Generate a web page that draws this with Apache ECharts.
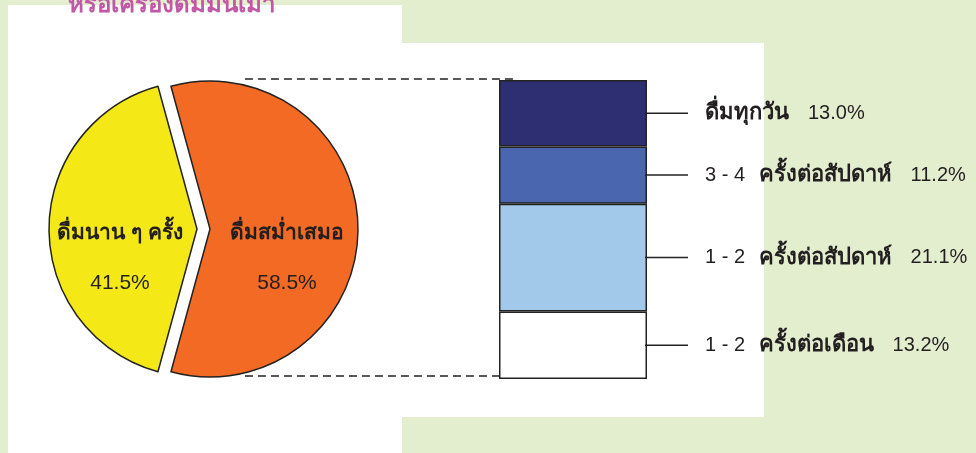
<!DOCTYPE html>
<html>
<head>
<meta charset="utf-8">
<script src="https://cdn.jsdelivr.net/npm/echarts@6/dist/echarts.min.js"></script>
<style>
  html, body { margin: 0; padding: 0; background: #e3eecf; }
  #chart { width: 976px; height: 453px; }
</style>
</head>
<body>
<div id="chart"></div>
<script>
// data
const titleText = 'หรือเครื่องดื่มมึนเมา';
const pieNames = ['ดื่มสม่ำเสมอ', 'ดื่มนาน ๆ ครั้ง'];
const pieValues = [58.5, 41.5];
const barNames = ['1 - 2 ครั้งต่อเดือน', '1 - 2 ครั้งต่อสัปดาห์', '3 - 4 ครั้งต่อสัปดาห์', 'ดื่มทุกวัน'];
const barValues = [13.2, 21.1, 11.2, 13.0];

const pieColors = ['#f26a24', '#f4e917'];
const barColors = ['#ffffff', '#a2c8ea', '#4a66af', '#2e2f72'];
const FONT = "'Liberation Sans', Arial, sans-serif";
const ink = '#231f20';

const pieTotal = pieValues.reduce((a, b) => a + b, 0);
const barTotal = barValues.reduce((a, b) => a + b, 0);
const pieCenter = [203.5, 229];
const pieRadius = 148;

// split "1 - 2 ครั้ง..." into the number part and the thai part
function splitName(name) {
  const m = name.match(/^([^\u0E00-\u0E7F]*)(.*)$/);
  return [m[1], m[2]];
}

const chart = echarts.init(document.getElementById('chart'));

const barSeries = barValues.map((v, i) => {
  const parts = splitName(barNames[i]);
  return {
    name: barNames[i],
    type: 'bar',
    stack: 'drink',
    barWidth: '100%',
    data: [v],
    itemStyle: { color: barColors[i], borderColor: '#222', borderWidth: 1.5 },
    label: {
      show: true,
      position: 'right',
      distance: -2,
      formatter: () => '{ln|}' + (parts[0] ? '{n0|' + parts[0] + '}' : '{sp|}') +
        '{b|' + parts[1] + '}{n|' + v.toFixed(1) + '%}',
      rich: {
        ln: { width: 43, height: 1.5, backgroundColor: '#222' },
        sp: { width: 17 },
        n0: { fontSize: 20, color: ink, fontFamily: FONT, padding: [0, 8, 0, 17] },
        b: { fontSize: 22, fontWeight: 'bold', color: ink, fontFamily: FONT },
        n: { fontSize: 20, color: ink, fontFamily: FONT, padding: [0, 0, 0, 19] }
      }
    },
    emphasis: { disabled: true },
    z: 3
  };
});

const option = {
  animation: false,
  backgroundColor: '#e3eecf',
  title: {
    text: titleText,
    left: 63,
    top: -12,
    textStyle: { fontSize: 24, fontWeight: 'bold', color: '#c257a6', fontFamily: FONT }
  },
  grid: { left: 499, top: 80, width: 148, height: 299 },
  xAxis: { type: 'category', data: ['drink'], show: false },
  yAxis: { type: 'value', min: 0, max: barTotal, show: false },
  series: [
    {
      type: 'pie',
      center: pieCenter,
      radius: pieRadius,
      startAngle: pieValues[0] / pieTotal * 180,
      clockwise: true,
      selectedMode: 'multiple',
      selectedOffset: 6.5,
      data: pieValues.map((v, i) => ({
        name: pieNames[i],
        value: v,
        selected: true,
        itemStyle: { color: pieColors[i] }
      })),
      itemStyle: { borderColor: '#222', borderWidth: 1.5 },
      label: {
        show: true,
        position: 'inner',
        padding: [58, 0, 0, 0],
        formatter: p => '{b|' + p.name + '}\n{p|' + p.value.toFixed(1) + '%}',
        rich: {
          b: { fontSize: 21, fontWeight: 'bold', color: ink, lineHeight: 50, fontFamily: FONT },
          p: { fontSize: 21, color: ink, lineHeight: 50, fontFamily: FONT }
        }
      },
      labelLine: { show: false },
      emphasis: { disabled: true },
      z: 3
    }
  ].concat(barSeries)
};
chart.setOption(option);

// white panels and dashed connectors from the pie to the bar
const barTop = chart.convertToPixel({ xAxisIndex: 0, yAxisIndex: 0 }, ['drink', barTotal]);
const barBottom = chart.convertToPixel({ xAxisIndex: 0, yAxisIndex: 0 }, ['drink', 0]);
const barLeft = barTop[0] - 74;
const startX = pieCenter[0] + pieRadius * 0.28;
const dash = { stroke: '#222', lineWidth: 1.5, lineDash: [8, 5] };

chart.setOption({
  graphic: [
    { type: 'rect', z: -10, shape: { x: 8, y: 5, width: 394, height: 448 }, style: { fill: '#ffffff' } },
    { type: 'rect', z: -10, shape: { x: 402, y: 43, width: 362, height: 374 }, style: { fill: '#ffffff' } },
    { type: 'line', z: 1, shape: { x1: startX, y1: barTop[1] - 1, x2: barLeft + 18, y2: barTop[1] - 1 }, style: dash },
    { type: 'line', z: 1, shape: { x1: startX, y1: barBottom[1] - 3, x2: barLeft + 10, y2: barBottom[1] - 3 }, style: dash }
  ]
});
</script>
</body>
</html>
